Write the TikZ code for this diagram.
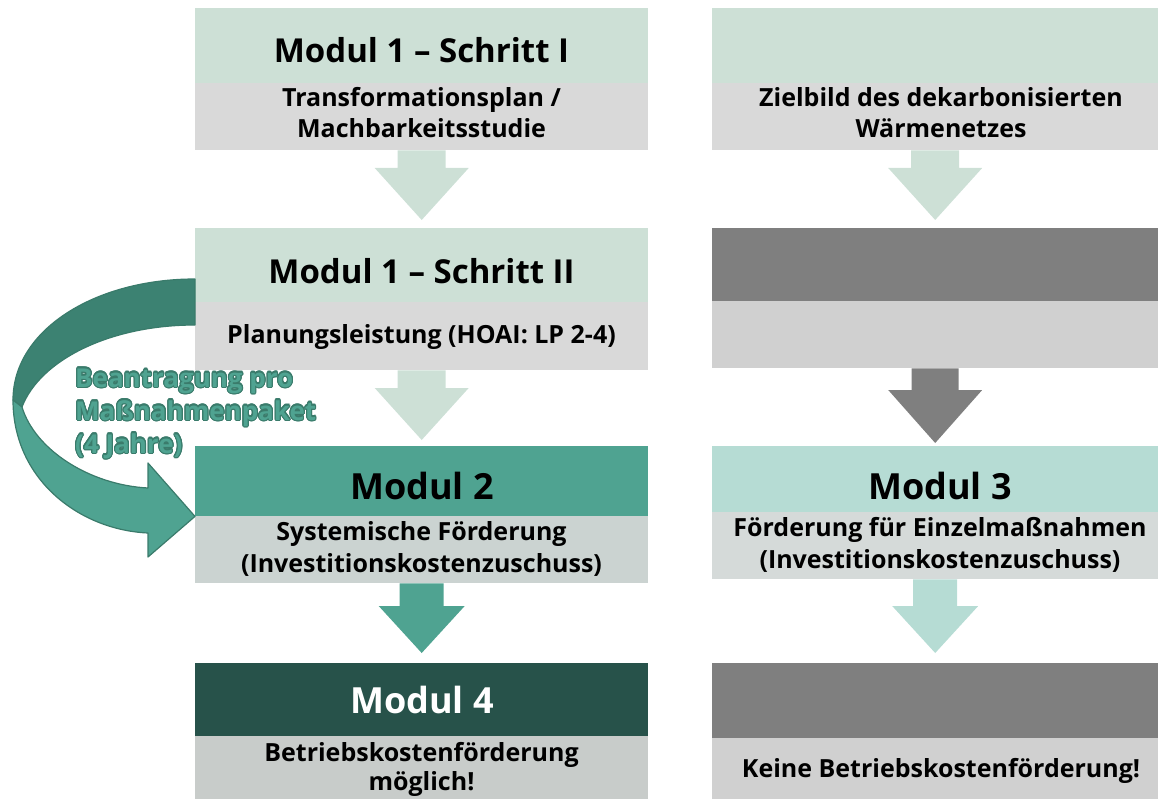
\documentclass[tikz,border=0pt]{standalone}
\usepackage{fontspec}
\setmainfont{Open Sans}
\usepackage{contour}
\usetikzlibrary{calc}
\definecolor{lgreen}{HTML}{CDE0D6}
\definecolor{bandgrey}{HTML}{D9D9D9}
\definecolor{teal2}{HTML}{4FA391}
\definecolor{darkteal}{HTML}{27524A}
\definecolor{mgrey}{HTML}{7F7F7F}
\definecolor{lgrey}{HTML}{D0D0D0}
\definecolor{lteal}{HTML}{B6DCD4}
\definecolor{subtwo}{HTML}{CBD3D1}
\definecolor{subthree}{HTML}{D5DAD9}
\definecolor{subfour}{HTML}{C8CCCA}
\definecolor{loopdark}{HTML}{3C8272}
\definecolor{loopline}{HTML}{3A7B6B}
\contourlength{1.1pt}
\newcommand{\blockarrow}[7]{%
  \path ($(#2)+(0,-#7)$) coordinate (tip);
  \fill[#3] ($(#1)+(-#4,0)$) -- ($(#1)+(#4,0)$) -- ($(tip)+(#4,-#6)$) -- ($(tip)+(#5,-#6)$) -- (tip) -- ($(tip)+(-#5,-#6)$) -- ($(tip)+(-#4,-#6)$) -- cycle;}
\tikzset{
  band/.style={rectangle, inner sep=0pt, anchor=north west, draw=none},
  lband/.style={band, minimum width=453pt},
  rband/.style={band, minimum width=446pt},
  title/.style={anchor=base, inner sep=0pt, font=\fontsize{33}{38}\selectfont\bfseries},
  bigtitle/.style={anchor=base, inner sep=0pt, font=\fontsize{36}{42}\selectfont\bfseries},
  body/.style={anchor=base, inner sep=0pt, align=center, font=\fontsize{25}{31.5}\selectfont\bfseries},
}
\begin{document}
\begin{tikzpicture}[x=1pt,y=-1pt]
\useasboundingbox (0,0) rectangle (1158,799);
% left column bands
\node[lband, fill=lgreen, minimum height=75pt] (h1) at (195,8) {};
\node[lband, fill=bandgrey, minimum height=67pt] (s1) at (195,83) {};
\node[lband, fill=lgreen, minimum height=74pt] (h2) at (195,228) {};
\node[lband, fill=bandgrey, minimum height=68pt] (s2) at (195,302) {};
\node[lband, fill=teal2, minimum height=70pt] (h3) at (195,446) {};
\node[lband, fill=subtwo, minimum height=67pt] (s3) at (195,516) {};
\node[lband, fill=darkteal, minimum height=73pt] (h4) at (195,663) {};
\node[lband, fill=subfour, minimum height=63pt] (s4) at (195,736) {};
% right column bands
\node[rband, fill=lgreen, minimum height=75pt] (r1h) at (712,8) {};
\node[rband, fill=bandgrey, minimum height=67pt] (r1s) at (712,83) {};
\node[rband, fill=mgrey, minimum height=73pt] (r2h) at (712,228) {};
\node[rband, fill=lgrey, minimum height=67pt] (r2s) at (712,301) {};
\node[rband, fill=lteal, minimum height=66pt] (r3h) at (712,446) {};
\node[rband, fill=subthree, minimum height=67pt] (r3s) at (712,512) {};
\node[rband, fill=mgrey, minimum height=75pt] (r4h) at (712,663) {};
\node[rband, fill=lgrey, minimum height=61pt] (r4s) at (712,738) {};
% block arrows
\blockarrow{s1.south}{h2.north}{lgreen}{24}{47}{52}{8}
\blockarrow{r1s.south}{r2h.north}{lgreen}{24}{47}{52}{8}
\blockarrow{s2.south}{h3.north}{lgreen}{24}{47}{52}{6}
\blockarrow{r2s.south}{r3h.north}{mgrey}{23.5}{47}{53}{3}
\blockarrow{s3.south}{h4.north}{teal2}{22}{43}{47}{10}
\blockarrow{r3s.south}{r4h.north}{lteal}{22}{43}{47}{10}
% texts left
\node[title] (t1) at (421.5,63) {Modul 1 – Schritt I};
\node[body] (b1) at (421.5,138) {Transformationsplan /\\ Machbarkeitsstudie};
\node[title] (t2) at (421.5,284) {Modul 1 – Schritt II};
\node[body] (b2) at (421.5,343) {Planungsleistung (HOAI: LP 2-4)};
\node[bigtitle] (t3) at (422,499) {Modul 2};
\node[body] (b3) at (421.5,572) {Systemische Förderung\\(Investitionskostenzuschuss)};
\node[bigtitle, text=white] (t4) at (422,713) {Modul 4};
\node[body, font=\fontsize{25}{28.5}\selectfont\bfseries] (b4) at (421.5,790) {Betriebskostenförderung\\möglich!};
% texts right
\node[body] (rb1) at (941,138) {Zielbild des dekarbonisierten\\Wärmenetzes};
\node[bigtitle] (rt3) at (940,499) {Modul 3};
\node[body] (rb3) at (940,568) {Förderung für Einzelmaßnahmen\\(Investitionskostenzuschuss)};
\node[body] (rb4) at (941,777) {Keine Betriebskostenförderung!};
% curved arrow
\coordinate (loopout) at (h3.south west);
\filldraw[fill=loopdark, draw=loopline, line width=1.2pt, line join=round]
  (195,279) .. controls (95,279) and (13,330) .. (13,400) -- (22,407)
  .. controls (40,360) and (110,325) .. (195,325) -- cycle;
\filldraw[fill=teal2, draw=loopline, line width=1.2pt, line join=round]
  (13,400) .. controls (13,480) and (80,530) .. (148,533) -- (148,557) -- (loopout) -- (148,463) -- (148,488)
  .. controls (90,485) and (35,450) .. (22,407) -- cycle;
\node[anchor=base west, inner sep=0pt, align=left, text=teal2,
  font=\fontsize{26}{33}\selectfont\bfseries] (lab) at (75,453)
  {\contour{loopline}{Beantragung pro}\\\contour{loopline}{Maßnahmenpaket}\\\contour{loopline}{(4 Jahre)}};
\end{tikzpicture}
\end{document}
